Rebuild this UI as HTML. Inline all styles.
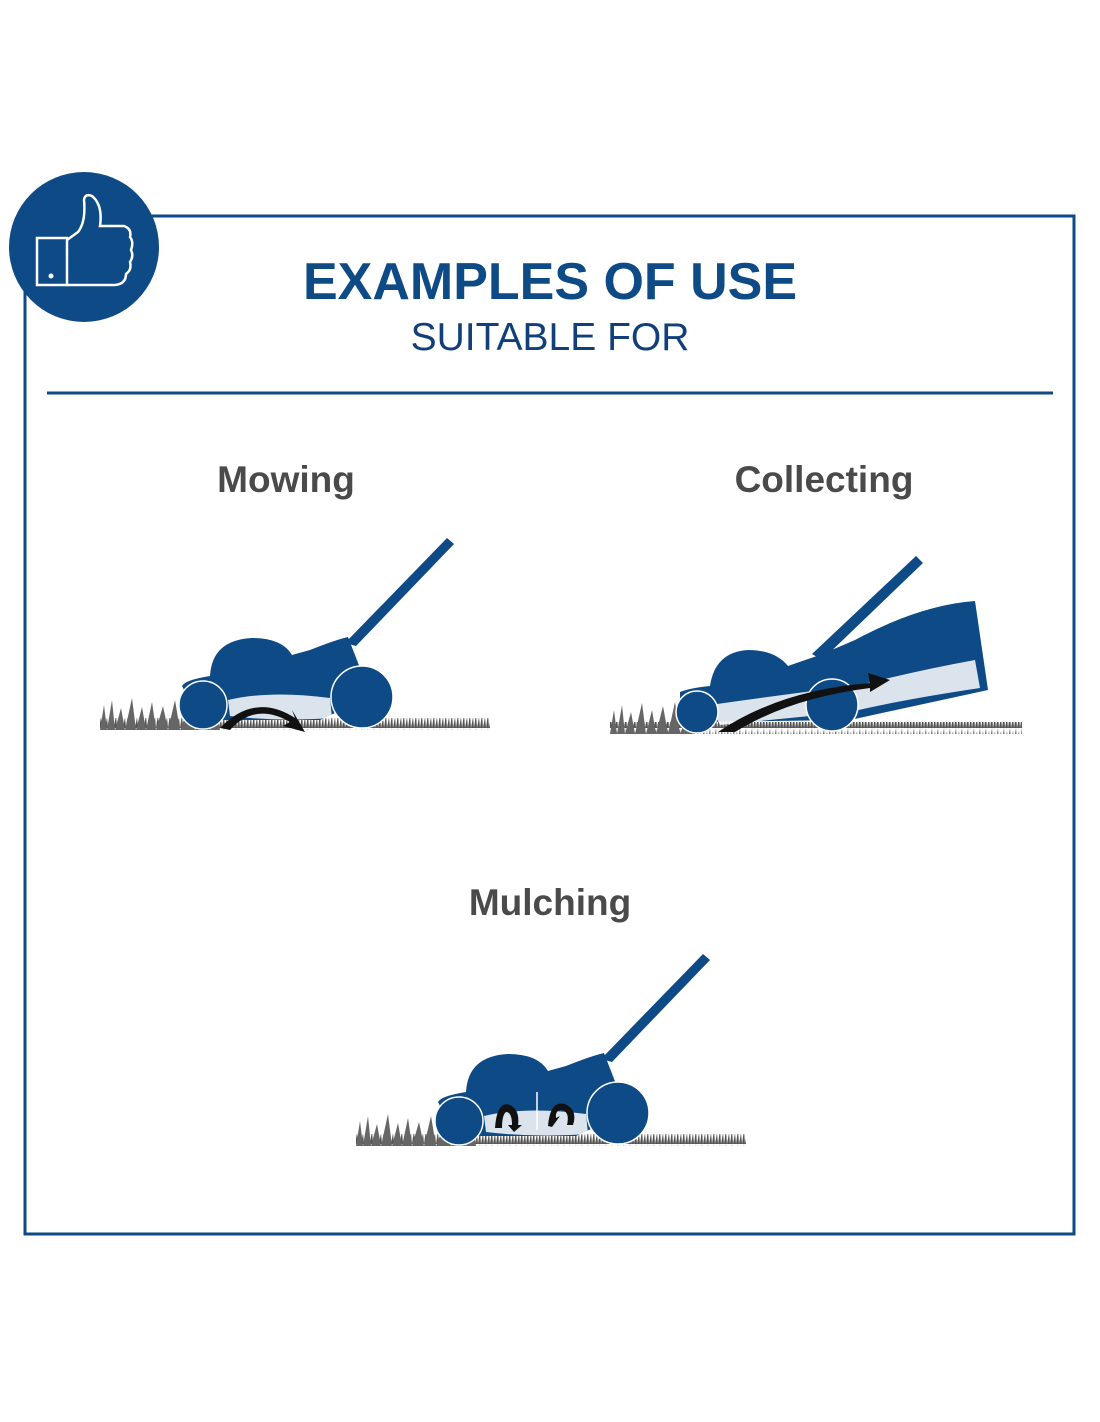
<!DOCTYPE html>
<html><head><meta charset="utf-8"><style>
html,body{margin:0;padding:0;background:#fff;}
svg{display:block}
</style></head><body>
<svg width="1100" height="1422" viewBox="0 0 1100 1422" xmlns="http://www.w3.org/2000/svg">
<defs>
<pattern id="gr" width="6" height="14" patternUnits="userSpaceOnUse">
<rect width="6" height="14" fill="#fff"/>
<path d="M0 14 L2 0 L3 14 M3 14 L5 3 L6 14" fill="#555"/>
</pattern>
<g id="mower">
  <rect x="100" y="718" width="390" height="12" fill="url(#gr)"/>
  <path d="M100 730 L104 705 L107 730 L112 700 L115 730 L121 708 L125 730 L132 698 L136 730 L142 707 L146 730 L152 702 L156 730 L163 706 L168 730 L175 700 L180 730 L190 704 L195 730 L205 698 L210 730 L215 705 L220 730 Z" fill="#666"/>
  <path d="M345 643 L447 538 L454 544 L356 646 Z" fill="#0e4a86"/>
  <path d="M182 686 Q185 680 210 676 Q212 640 252 638 Q282 638 292 655 L310 650 Q335 640 348 637 L360 668 L380 692 L320 720 L200 720 Z" fill="#0e4a86"/>
  <path d="M228 700 Q270 690 330 698 L332 718 Q280 722 230 716 Z" fill="#fff" opacity="0.85"/>
  <circle cx="203" cy="705" r="24" fill="#0e4a86" stroke="#fff" stroke-width="1.5"/>
  <circle cx="362" cy="697" r="31" fill="#0e4a86" stroke="#fff" stroke-width="1.5"/>
</g>
</defs>
<rect x="25" y="216" width="1049" height="1018" fill="none" stroke="#0e4a86" stroke-width="3"/>
<circle cx="84" cy="247" r="75" fill="#0e4a86"/>
<rect x="37" y="238" width="30" height="47" fill="none" stroke="#fff" stroke-width="2.5"/>
<circle cx="51" cy="276" r="2.5" fill="#fff"/>
<path d="M67 240 L78 232 Q86 222 84 200 Q85 193 92 196 Q103 205 100 226 L124 226 Q132 229 130 237 Q134 242 131 250 Q134 256 130 262 Q132 270 126 274 Q126 284 115 285 L67 285" fill="none" stroke="#fff" stroke-width="2.5"/>
<line x1="47" y1="393" x2="1053" y2="393" stroke="#0e4a86" stroke-width="3"/>
<text x="550" y="299" text-anchor="middle" font-family="Liberation Sans, sans-serif" font-weight="bold" font-size="52" fill="#0e4a86">EXAMPLES OF USE</text>
<text x="550" y="350" text-anchor="middle" font-family="Liberation Sans, sans-serif" font-size="39" fill="#123f7a">SUITABLE FOR</text>
<text x="286" y="492" text-anchor="middle" font-family="Liberation Sans, sans-serif" font-weight="bold" font-size="37" fill="#4a4a4a">Mowing</text>
<text x="824" y="492" text-anchor="middle" font-family="Liberation Sans, sans-serif" font-weight="bold" font-size="37" fill="#4a4a4a">Collecting</text>
<text x="550" y="915" text-anchor="middle" font-family="Liberation Sans, sans-serif" font-weight="bold" font-size="37" fill="#4a4a4a">Mulching</text>

<use href="#mower"/>
<path d="M220 728 Q255 692 295 718 L292 710 L305 732 L283 726 L290 722 Q255 702 230 730 Z" fill="#111"/>

<use href="#mower" transform="translate(256,416)"/>
<path d="M495 1128 Q497 1100 510 1105 Q520 1110 518 1125 L522 1125 L514 1132 L508 1125 L512 1125 Q512 1112 506 1112 Q502 1115 502 1128 Z" fill="#111"/>
<path d="M548 1126 Q550 1100 565 1104 Q578 1110 573 1125 L567 1125 Q570 1112 562 1110 Q555 1110 556 1118 L560 1116 L552 1127 Z" fill="#111"/>
<line x1="537" y1="1092" x2="537" y2="1130" stroke="#fff" stroke-width="1.5"/>

<g>
  <rect x="610" y="722" width="412" height="12" fill="url(#gr)"/>
  <path d="M610 734 L614 710 L617 734 L622 705 L625 734 L631 712 L635 734 L642 703 L646 734 L652 710 L656 734 L663 706 L668 734 L675 702 L680 734 L690 708 L695 734 Z" fill="#666"/>
  <path d="M812 654 L916 556 L923 563 L822 660 Z" fill="#0e4a86"/>
  <path d="M855 640 Q920 605 975 601 L988 690 L850 720 L700 722 L680 712 L680 692 Q690 688 710 686 Q715 652 748 650 Q775 650 788 666 Q805 660 820 655 Z" fill="#0e4a86"/>
  <path d="M710 705 Q780 695 860 685 Q920 670 975 660 L980 688 Q900 700 850 712 L720 725 Z" fill="#fff" opacity="0.85"/>
  <circle cx="697" cy="712" r="21" fill="#0e4a86" stroke="#fff" stroke-width="1.5"/>
  <circle cx="832" cy="705" r="26" fill="#0e4a86" stroke="#fff" stroke-width="1.5"/>
  <path d="M718 732 Q780 690 870 683 L868 673 L890 680 L870 692 L870 688 Q790 698 735 732 Z" fill="#111"/>
</g>
</svg>
</body></html>
